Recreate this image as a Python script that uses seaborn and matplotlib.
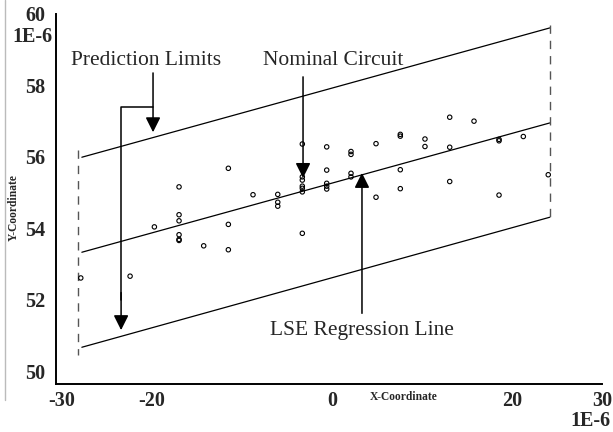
import numpy as np
import pandas as pd
import matplotlib
matplotlib.use("Agg")
import matplotlib.pyplot as plt
import seaborn as sns

# data (units of 1E-6)
pts_x = [-27.92, -22.44, -19.74,
         -17.0, -17.0, -17.0, -17.0, -17.0, -17.0,
         -14.26, -11.52, -11.52, -11.52, -8.78,
         -6.03, -6.03, -6.03,
         -3.3, -3.3, -3.3, -3.3, -3.3, -3.3, -3.3,
         -0.59, -0.59, -0.59, -0.59, -0.59,
         2.11, 2.11, 2.11, 2.11, 4.89, 4.89,
         7.59, 7.59, 7.59, 7.59, 10.33, 10.33,
         13.08, 13.08, 13.08, 15.78, 18.56, 18.56, 18.56, 21.26, 24.03]
pts_y = [52.61, 52.66, 54.04,
         55.16, 54.38, 54.21, 53.82, 53.69, 53.66,
         53.51, 55.68, 54.11, 53.40, 54.94,
         54.95, 54.73, 54.62,
         56.36, 55.44, 55.35, 55.18, 55.12, 55.02, 53.86,
         56.28, 55.63, 55.26, 55.18, 55.10,
         56.15, 56.07, 55.54, 55.44, 56.37, 54.87,
         56.63, 56.58, 55.64, 55.11, 56.50, 56.29,
         57.11, 56.27, 55.31, 57.00, 56.49, 56.45, 54.93, 56.57, 55.50]

line_x = [-27.8, 24.2]
upper_lim = [55.99, 59.61]
lse_fit = [53.33, 56.95]
lower_lim = [50.67, 54.31]

left_bound = [-28.2, 56.19, 50.45]   # x, top, bottom
right_bound = [24.2, 59.69, 54.2]

xticks = [-30, -20, 0, 20, 30]
yticks = [50, 52, 54, 56, 58, 60]

sns.set_style("white")
plt.rcParams['font.family'] = ['Liberation Serif', 'DejaVu Serif']

fig = plt.figure(figsize=(6.13, 4.32), dpi=100)
ax = fig.add_axes([0.0914, 0.111, 0.8906, 0.8566])

pts = pd.DataFrame({"x": pts_x, "y": pts_y})
sns.scatterplot(data=pts, x="x", y="y", ax=ax, marker="o", s=10,
                facecolor="none", edgecolor="black", linewidth=0.8, zorder=3)

for yy in (upper_lim, lse_fit, lower_lim):
    sns.lineplot(x=line_x, y=yy, ax=ax, color="black", linewidth=0.9)

for b in (left_bound, right_bound):
    ax.plot([b[0], b[0]], [b[1], b[2]], color="#555555", linewidth=1.0,
            linestyle=(0, (6, 5)))

# annotations
ax.text(-20.67, 58.71, "Prediction Limits", fontsize=15.5, ha="center", va="center")
ax.text(0.11, 58.71, "Nominal Circuit", fontsize=15.5, ha="center", va="center")
ax.text(3.33, 51.15, "LSE Regression Line", fontsize=15.5, ha="center", va="center")

arrow = dict(arrowstyle="-|>,head_length=0.9,head_width=0.45", color="black", lw=1.1,
             shrinkA=0, shrinkB=0)
ax.annotate("", xy=(-19.89, 56.69), xytext=(-19.89, 58.35), arrowprops=arrow)
ax.plot([-19.89, -23.44, -23.44], [57.39, 57.39, 52.0], color="black", lw=1.1)
ax.annotate("", xy=(-23.44, 51.15), xytext=(-23.44, 52.2), arrowprops=arrow)
ax.annotate("", xy=(-3.22, 55.41), xytext=(-3.22, 58.24), arrowprops=arrow)
ax.annotate("", xy=(3.33, 55.55), xytext=(3.33, 51.62), arrowprops=arrow)

ax.set_xlim(-30.67, 30)
ax.set_ylim(49.64, 60)
ax.set_xticks(xticks)
ax.set_yticks(yticks)
ax.set_xticklabels([str(t) for t in xticks], fontsize=14.5, fontweight="bold")
ax.set_yticklabels([str(t) for t in yticks], fontsize=14.5, fontweight="bold")
ax.tick_params(axis="y", direction="out", length=5, width=1.0, color="black", pad=3)
ax.tick_params(axis="x", direction="out", length=5, width=1.0, color="black", pad=0)
ax.set_xlabel("")
ax.set_ylabel("")
for s in ("top", "right"):
    ax.spines[s].set_visible(False)
for s in ("left", "bottom"):
    ax.spines[s].set_color("black")
    ax.spines[s].set_linewidth(1.4)

fig.text(12 / 613, 1 - 37 / 432, "1E-6", fontsize=14.5, fontweight="bold", ha="left", va="center")
fig.text(611 / 613, 1 - 421 / 432, "1E-6", fontsize=14.5, fontweight="bold", ha="right", va="center")
fig.text(404 / 613, 1 - 397 / 432, "X-Coordinate", fontsize=8.3, fontweight="bold",
         ha="center", va="center")
fig.text(14 / 613, 1 - 208 / 432, "Y-Coordinate", fontsize=8.3, fontweight="bold",
         ha="center", va="center", rotation=90)
fig.add_artist(plt.Line2D([5 / 613, 5 / 613], [1.0, 1 - 400 / 432], color="#bbbbbb", lw=1.0))

fig.savefig("out.png", dpi=100)
